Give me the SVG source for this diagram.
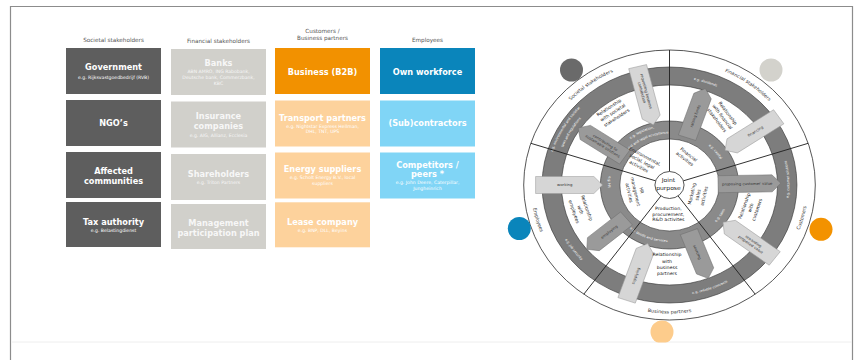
<svg xmlns="http://www.w3.org/2000/svg" width="857" height="360" viewBox="0 0 857 360">
  <style>
    text { font-family: "DejaVu Sans", Verdana, "Liberation Sans", sans-serif; }
    .hdr { font-size: 5.7px; fill: #555; text-anchor: middle; }
    .ttl { font-size: 8.2px; font-weight: bold; fill: #fff; text-anchor: middle; }
    .sub { font-size: 4.6px; fill: #fff; text-anchor: middle; }
    .lite .ttl, .lite .sub { fill: #f7f7f7; }
    .in { font-size: 4.4px; fill: #222; text-anchor: middle; }
    .jp { font-size: 5.6px; fill: #222; text-anchor: middle; }
    .band { font-size: 4.6px; fill: #333; text-anchor: middle; }
    .ring { font-size: 3.2px; fill: #fff; text-anchor: middle; }
    .arw { font-size: 3.6px; fill: #333; text-anchor: middle; }
    .spoke { stroke: #222; stroke-width: 0.9; }
    .edge { stroke: #333; stroke-width: 0.6; }
    .lt { fill: #d6d6d6; stroke: #9a9a9a; stroke-width: 0.5; }
    .dk { fill: #9a9a9a; stroke: #707070; stroke-width: 0.5; }
    .c1 { fill: #5e5e5e; }
    .c2 { fill: #d1d0cb; }
    .c3a { fill: #f29100; }
    .c3 { fill: #fdd29c; }
    .c4a { fill: #0a85bb; }
    .c4 { fill: #80d5f6; }
  </style>
  <defs>
    <!-- arcs used as baselines for curved labels (wheel coordinates) -->
    <path id="pSoc" d="M-119.68,34.31 A124.5,124.5 0 0 1 69.62,-103.21"/>
    <path id="pFin" d="M-69.62,-103.21 A124.5,124.5 0 0 1 119.68,34.31"/>
    <path id="pCus" d="M11.20,128.01 A128.5,128.5 0 0 0 73.71,-105.26"/>
    <path id="pBus" d="M-120.75,43.95 A128.5,128.5 0 0 0 120.75,43.95"/>
    <path id="pEmp" d="M-75.53,-103.96 A128.5,128.5 0 0 0 -8.96,128.19"/>
    <path id="oSoc1" d="M-86.56,72.63 A113,113 0 0 1 19.62,-111.28"/>
    <path id="oSoc2" d="M-80.82,67.81 A105.5,105.5 0 0 1 18.32,-103.90"/>
    <path id="oFin" d="M-84.71,-66.19 A107.5,107.5 0 0 1 107.43,-3.75"/>
    <path id="oCus" d="M43.37,102.18 A111,111 0 0 0 32.45,-106.15"/>
    <path id="oBus" d="M-85.03,71.35 A111,111 0 0 0 111,0"/>
    <path id="oEmp" d="M-92.02,-62.07 A111,111 0 0 0 30.59,106.70"/>
    <path id="iSoc1" d="M-58.18,6.11 A58.5,58.5 0 0 1 40.64,-42.08"/>
    <path id="iSoc2" d="M-51.22,5.38 A51.5,51.5 0 0 1 35.77,-37.05"/>
    <path id="iFin" d="M-16.53,-50.88 A53.5,53.5 0 0 1 45.37,28.35"/>
    <path id="iCus" d="M-12.82,55.54 A57,57 0 0 0 45.52,-34.30"/>
    <path id="iBus" d="M-56.99,-0.99 A57,57 0 0 0 43.02,37.40"/>
    <path id="iEmp" d="M-16.67,-54.51 A57,57 0 0 0 -22.27,52.47"/>
    <clipPath id="pageClip"><rect x="0" y="0" width="857" height="342.5"/></clipPath>
  </defs>

  <rect width="857" height="360" fill="#fff"/>
  <!-- slide frame -->
  <path d="M10.5,360 V6.5 H852.5 V360" fill="none" stroke="#8c8c8c" stroke-width="1.2"/>
  <line x1="12" y1="342" x2="852" y2="342" stroke="#eeeeee" stroke-width="1"/>

  <!-- column headers -->
  <g id="headers">
    <text class="hdr" x="113.5" y="42">Societal stakeholders</text>
    <text class="hdr" x="218.5" y="43">Financial stakeholders</text>
    <text class="hdr" x="322.5" y="32.5">Customers /</text>
    <text class="hdr" x="322.5" y="40.3">Business partners</text>
    <text class="hdr" x="427.5" y="42">Employees</text>
  </g>

  <!-- societal stakeholders -->
  <g id="government">
    <rect class="c1" x="66" y="48" width="95" height="46"/>
    <text class="ttl" x="113.5" y="69.6">Government</text>
    <text class="sub" x="113.5" y="79.4">e.g. Rijksvastgoedbedrijf (RVB)</text>
  </g>
  <g id="ngos">
    <rect class="c1" x="66" y="100" width="95" height="46"/>
    <text class="ttl" x="113.5" y="126">NGO’s</text>
  </g>
  <g id="affected-communities">
    <rect class="c1" x="66" y="152" width="95" height="46"/>
    <text class="ttl" x="113.5" y="173.6">Affected</text>
    <text class="ttl" x="113.5" y="183.6">communities</text>
  </g>
  <g id="tax-authority">
    <rect class="c1" x="66" y="202" width="95" height="45"/>
    <text class="ttl" x="113.5" y="224.6">Tax authority</text>
    <text class="sub" x="113.5" y="231.7">e.g. Belastingdienst</text>
  </g>

  <!-- financial stakeholders -->
  <g id="banks" class="lite">
    <rect class="c2" x="171" y="49" width="95" height="46"/>
    <text class="ttl" x="218.5" y="66.2">Banks</text>
    <text class="sub" x="218.5" y="73.4">ABN AMRO, ING Rabobank,</text>
    <text class="sub" x="218.5" y="79.2">Deutsche bank, Commerzbank,</text>
    <text class="sub" x="218.5" y="85">KBC</text>
  </g>
  <g id="insurance" class="lite">
    <rect class="c2" x="171" y="101.5" width="95" height="46"/>
    <text class="ttl" x="218.5" y="118.6">Insurance</text>
    <text class="ttl" x="218.5" y="128.9">companies</text>
    <text class="sub" x="218.5" y="137">e.g. AIG, Allianz, Ecclesia</text>
  </g>
  <g id="shareholders" class="lite">
    <rect class="c2" x="171" y="154" width="95" height="46"/>
    <text class="ttl" x="218.5" y="177.2">Shareholders</text>
    <text class="sub" x="218.5" y="184.4">e.g. Triton Partners</text>
  </g>
  <g id="management-plan" class="lite">
    <rect class="c2" x="171" y="204" width="95" height="45"/>
    <text class="ttl" x="218.5" y="225.6">Management</text>
    <text class="ttl" x="218.5" y="235.6">participation plan</text>
  </g>

  <!-- customers / business partners -->
  <g id="business-b2b">
    <rect class="c3a" x="275" y="48" width="95" height="46"/>
    <text class="ttl" x="322.5" y="74.6">Business (B2B)</text>
  </g>
  <g id="transport-partners">
    <rect class="c3" x="275" y="100.5" width="95" height="46"/>
    <text class="ttl" x="322.5" y="121.2">Transport partners</text>
    <text class="sub" x="322.5" y="127.7">e.g. Nightstar Express Hellman,</text>
    <text class="sub" x="322.5" y="133.4">DHL, TNT, UPS</text>
  </g>
  <g id="energy-suppliers">
    <rect class="c3" x="275" y="152.5" width="95" height="46"/>
    <text class="ttl" x="322.5" y="171.9">Energy suppliers</text>
    <text class="sub" x="322.5" y="179.4">e.g. Scholt Energy B.V., local</text>
    <text class="sub" x="322.5" y="185">suppliers</text>
  </g>
  <g id="lease-company">
    <rect class="c3" x="275" y="202.3" width="95" height="45"/>
    <text class="ttl" x="322.5" y="225.2">Lease company</text>
    <text class="sub" x="322.5" y="231.7">e.g. BNP, DLL, Beyins</text>
  </g>

  <!-- employees -->
  <g id="own-workforce">
    <rect class="c4a" x="380" y="48" width="95" height="46"/>
    <text class="ttl" x="427.5" y="74.6">Own workforce</text>
  </g>
  <g id="subcontractors">
    <rect class="c4" x="380" y="100.5" width="95" height="46"/>
    <text class="ttl" x="427.5" y="126.2">(Sub)contractors</text>
  </g>
  <g id="competitors">
    <rect class="c4" x="380" y="152.5" width="95" height="46"/>
    <text class="ttl" x="427.5" y="167.9">Competitors /</text>
    <text class="ttl" x="427.5" y="177.2">peers *</text>
    <text class="sub" x="427.5" y="184.4">e.g. John Deere, Caterpillar,</text>
    <text class="sub" x="427.5" y="190">Jungheinrich</text>
  </g>

  <!-- stakeholder wheel -->
  <g id="wheel" transform="translate(669.5,185) scale(1.08,1)">
    <g id="rings">
      <circle r="135" fill="#fff" stroke="#333" stroke-width="0.8"/>
      <circle r="118" fill="#7d7d7d" class="edge"/>
      <circle r="100" fill="#fff" class="edge"/>
      <circle r="64" fill="#8a8a8a" class="edge"/>
      <circle r="46" fill="#fff" class="edge"/>
    </g>

    <!-- ring labels -->
    <g id="ring-labels">
      <text class="ring"><textPath href="#oSoc1" startOffset="50%">e.g. environmental and societal</textPath></text>
      <text class="ring"><textPath href="#oSoc2" startOffset="50%">laws and regulations</textPath></text>
      <text class="ring"><textPath href="#oFin" startOffset="50%">e.g. dividends</textPath></text>
      <text class="ring"><textPath href="#oCus" startOffset="50%">e.g. customer solutions</textPath></text>
      <text class="ring"><textPath href="#oBus" startOffset="50%">e.g. reliable contracts</textPath></text>
      <text class="ring"><textPath href="#oEmp" startOffset="50%">e.g. job security</textPath></text>
      <text class="ring"><textPath href="#iSoc1" startOffset="50%">e.g. legislation,</textPath></text>
      <text class="ring"><textPath href="#iSoc2" startOffset="50%">social and legal acceptance</textPath></text>
      <text class="ring"><textPath href="#iFin" startOffset="50%">e.g. capital</textPath></text>
      <text class="ring"><textPath href="#iCus" startOffset="50%">e.g. sales</textPath></text>
      <text class="ring"><textPath href="#iBus" startOffset="50%">e.g. goods and services</textPath></text>
      <text class="ring"><textPath href="#iEmp" startOffset="50%">e.g. HR</textPath></text>
    </g>

    <!-- sector dividers -->
    <g id="spokes">
      <line class="spoke" x1="0" y1="-13.5" x2="0" y2="-135"/>
      <line class="spoke" x1="-12.84" y1="-4.17" x2="-128.4" y2="-41.7"/>
      <line class="spoke" x1="12.84" y1="-4.17" x2="128.4" y2="-41.7"/>
      <line class="spoke" x1="-7.94" y1="10.92" x2="-79.35" y2="109.2"/>
      <line class="spoke" x1="7.94" y1="10.92" x2="79.35" y2="109.2"/>
    </g>

    <!-- flow arrows: light = inward, dark = outward -->
    <g id="arrows">
      <g transform="rotate(-104)">
        <polygon class="lt" points="122,-8.5 70,-8.5 62,0 70,8.5 122,8.5"/>
        <text class="arw" transform="rotate(180 96 0)"><tspan x="96" y="-0.6">requesting business</tspan><tspan x="96" y="3.6">contribution</tspan></text>
      </g>
      <g transform="rotate(-146)">
        <polygon class="dk" points="50,-8.5 94,-8.5 102,0 94,8.5 50,8.5"/>
        <text class="arw" transform="rotate(180 73 0)"><tspan x="73" y="-0.6">contributing to</tspan><tspan x="73" y="3.6">sustainable solutions</tspan></text>
      </g>
      <g transform="rotate(-71)">
        <polygon class="dk" points="50,-8.5 94,-8.5 102,0 94,8.5 50,8.5"/>
        <text class="arw" x="73" y="1.3">raising funds</text>
      </g>
      <g transform="rotate(-34)">
        <polygon class="lt" points="122,-8.5 70,-8.5 62,0 70,8.5 122,8.5"/>
        <text class="arw" x="96" y="1.3">financing</text>
      </g>
      <g transform="rotate(-1)">
        <polygon class="dk" points="45,-8.5 95,-8.5 103,0 95,8.5 45,8.5"/>
        <text class="arw" x="72" y="1.3">proposing customer value</text>
      </g>
      <g transform="rotate(37)">
        <polygon class="lt" points="122,-8.5 70,-8.5 62,0 70,8.5 122,8.5"/>
        <text class="arw"><tspan x="96" y="-0.6">rewarding</tspan><tspan x="96" y="3.6">proposed value</tspan></text>
      </g>
      <g transform="rotate(-291)">
        <polygon class="dk" points="50,-8.5 92,-8.5 100,0 92,8.5 50,8.5"/>
        <text class="arw" x="72" y="1.3">sourcing</text>
      </g>
      <g transform="rotate(-251)">
        <polygon class="lt" points="122,-8.5 70,-8.5 62,0 70,8.5 122,8.5"/>
        <text class="arw" x="96" y="1.3" transform="rotate(180 96 0)">supplying</text>
      </g>
      <g transform="rotate(-180)">
        <polygon class="lt" points="124,-8.5 70,-8.5 62,0 70,8.5 124,8.5"/>
        <text class="arw" x="97" y="1.3" transform="rotate(180 97 0)">working</text>
      </g>
      <g transform="rotate(-220)">
        <polygon class="dk" points="52,-8.5 92,-8.5 100,0 92,8.5 52,8.5"/>
        <text class="arw" x="73" y="1.3" transform="rotate(180 73 0)">employing</text>
      </g>
    </g>

    <!-- relationship labels -->
    <g id="relationships">
      <text class="in" transform="translate(-52.3,-72) rotate(-35)"><tspan x="0" y="-5.1">Relationship</tspan><tspan x="0" y="1.1">with societal</tspan><tspan x="0" y="7.3">stakeholders</tspan></text>
      <text class="in" transform="translate(48.6,-68) rotate(55)"><tspan x="0" y="-5.1">Relationship</tspan><tspan x="0" y="1.1">with financial</tspan><tspan x="0" y="7.3">stakeholders</tspan></text>
      <text class="in" transform="translate(75.5,23) rotate(-72)"><tspan x="0" y="-5.1">Relationship</tspan><tspan x="0" y="1.1">with</tspan><tspan x="0" y="7.3">customers</tspan></text>
      <text class="in"><tspan x="-2.3" y="71.5">Relationship</tspan><tspan x="-2.3" y="77.7">with</tspan><tspan x="-2.3" y="83.9">business</tspan><tspan x="-2.3" y="90.1">partners</tspan></text>
      <text class="in" transform="translate(-82.9,25) rotate(72)"><tspan x="0" y="-5.1">Relationship</tspan><tspan x="0" y="1.1">with</tspan><tspan x="0" y="7.3">employees</tspan></text>
    </g>

    <!-- activities in the core -->
    <g id="activities">
      <text class="in" transform="translate(-25.7,-23.3) rotate(30)"><tspan x="0" y="-4.6">Environmental,</tspan><tspan x="0" y="1.2">social, legal</tspan><tspan x="0" y="7">activities</tspan></text>
      <text class="in" transform="translate(15.9,-28.3) rotate(40)"><tspan x="0" y="-1.4">Financial</tspan><tspan x="0" y="4.4">activities</tspan></text>
      <text class="in" transform="translate(26.7,10) rotate(-78)"><tspan x="0" y="-4.6">Marketing</tspan><tspan x="0" y="1.2">sales</tspan><tspan x="0" y="7">activities</tspan></text>
      <text class="in"><tspan x="-1.1" y="24.8">Production,</tspan><tspan x="-1.1" y="30.6">procurement,</tspan><tspan x="-1.1" y="36.4">R&amp;D activites</tspan></text>
      <text class="in" transform="translate(-31.9,6.7) rotate(78)"><tspan x="0" y="-4.6">HR</tspan><tspan x="0" y="1.2">management</tspan><tspan x="0" y="7">activities</tspan></text>
    </g>

    <g id="joint-purpose">
      <circle r="13.5" fill="#fff" stroke="#333" stroke-width="0.8"/>
      <text class="jp" x="-1" y="-3.5">Joint</text>
      <text class="jp" x="-1" y="4.5">purpose</text>
    </g>

    <!-- stakeholder group names -->
    <g id="group-labels">
      <text class="band"><textPath href="#pSoc" startOffset="50%">Societal stakeholders</textPath></text>
      <text class="band"><textPath href="#pFin" startOffset="50%">Financial stakeholders</textPath></text>
      <text class="band"><textPath href="#pCus" startOffset="50%">Customers</textPath></text>
      <text class="band"><textPath href="#pBus" startOffset="50%">Business partners</textPath></text>
      <text class="band"><textPath href="#pEmp" startOffset="50%">Employees</textPath></text>
    </g>
  </g>

  <!-- colour markers around the wheel -->
  <g id="markers">
    <circle cx="571.5" cy="70" r="11.5" fill="#6a6a6a"/>
    <circle cx="771" cy="70" r="11.5" fill="#d3d2cc"/>
    <circle cx="519.3" cy="228.5" r="11.5" fill="#0a85bb"/>
    <circle cx="821" cy="229.3" r="11.5" fill="#f39200"/>
    <circle cx="662" cy="332" r="11.5" fill="#fdcc8c" clip-path="url(#pageClip)"/>
  </g>
</svg>
